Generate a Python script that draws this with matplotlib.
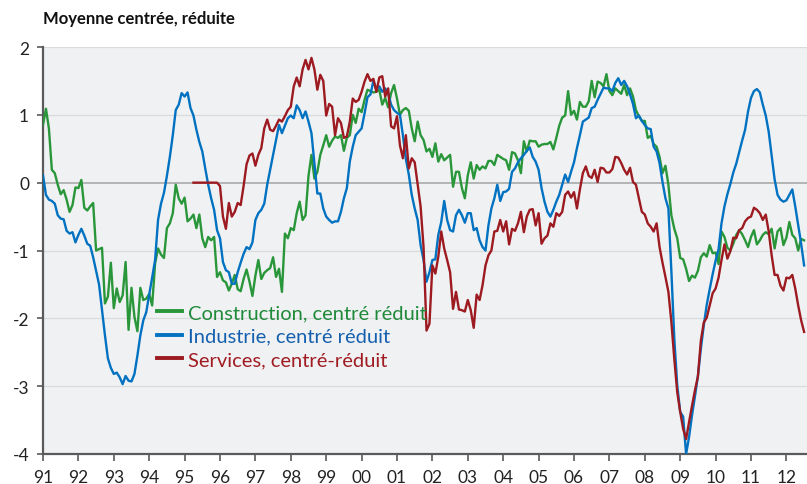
import matplotlib.pyplot as plt
import numpy as np

# Indicateurs de confiance (moyenne centrée, réduite), mensuels de janv. 1991 à juil. 2012
construction = [
    0.85, 1.09, 0.80, 0.19, 0.14, -0.03, -0.17, -0.11, -0.25, -0.43, -0.33, -0.07,      # 1991
    -0.08, 0.04, -0.37, -0.41, -0.35, -0.30, -1.00, -0.98, -0.96, -1.78, -1.68, -1.18,  # 1992
    -1.85, -1.56, -1.76, -1.66, -1.17, -2.17, -1.55, -1.98, -2.19, -1.55, -1.73, -1.71, # 1993
    -1.64, -1.81, -1.19, -0.97, -1.06, -1.11, -0.67, -0.60, -0.45, -0.03, -0.23, -0.31, # 1994
    -0.22, -0.57, -0.53, -0.47, -0.67, -0.47, -0.82, -0.95, -0.80, -0.85, -0.80, -1.39, # 1995
    -1.32, -1.44, -1.47, -1.59, -1.49, -1.36, -1.57, -1.60, -1.42, -1.28, -1.46, -1.67, # 1996
    -1.37, -1.14, -1.42, -1.33, -1.29, -1.26, -1.10, -1.39, -1.27, -1.61, -0.75, -0.82, # 1997
    -0.67, -0.70, -0.45, -0.28, -0.55, -0.48, 0.10, 0.41, 0.06, 0.16, 0.41, 0.55,       # 1998
    0.70, 0.53, 0.62, 0.68, 0.66, 0.70, 0.47, 0.66, 0.70, 1.00, 0.88, 1.09,             # 1999
    1.04, 1.22, 1.37, 1.35, 1.33, 1.34, 1.37, 1.15, 1.25, 1.11, 1.32, 1.44,             # 2000
    1.24, 1.00, 1.07, 1.10, 1.06, 0.80, 0.61, 0.90, 0.70, 0.63, 0.46, 0.50,             # 2001
    0.38, 0.58, 0.31, 0.42, 0.33, 0.37, 0.41, -0.06, 0.16, 0.16, -0.08, -0.23,          # 2002
    0.11, 0.30, 0.06, 0.26, 0.19, 0.24, 0.21, 0.32, 0.32, 0.26, 0.41, 0.38,             # 2003
    0.35, 0.33, 0.19, 0.45, 0.43, 0.33, 0.14, 0.61, 0.46, 0.62, 0.61, 0.61,             # 2004
    0.53, 0.56, 0.57, 0.57, 0.60, 0.49, 0.66, 0.84, 0.96, 0.99, 1.35, 1.00,             # 2005
    1.06, 0.93, 1.19, 1.12, 1.12, 1.20, 1.50, 1.26, 1.49, 1.47, 1.42, 1.60,             # 2006
    1.35, 1.29, 1.39, 1.35, 1.31, 1.44, 1.29, 1.39, 1.27, 1.07, 0.98, 0.91,             # 2007
    0.91, 0.66, 0.69, 0.57, 0.53, 0.38, 0.14, 0.25, -0.03, -0.48, -0.68, -0.82,         # 2008
    -1.11, -1.13, -1.27, -1.45, -1.37, -1.40, -1.30, -1.10, -1.04, -1.09, -0.92, -1.04, # 2009
    -1.03, -1.20, -0.72, -0.80, -0.96, -1.00, -0.90, -0.77, -0.70, -0.76, -0.85, -0.95, # 2010
    -0.80, -0.70, -0.91, -0.85, -0.77, -0.73, -0.76, -0.68, -0.97, -0.72, -0.67, -0.92, # 2011
    -0.81, -0.58, -0.77, -0.82, -1.00, -0.83, -0.85,                                    # 2012
]
industrie = [
    0.11, -0.18, -0.25, -0.27, -0.31, -0.48, -0.53, -0.54, -0.71, -0.75, -0.73, -0.88,  # 1991
    -0.77, -0.68, -0.78, -0.90, -0.93, -1.10, -1.30, -1.50, -1.88, -2.25, -2.59, -2.73, # 1992
    -2.82, -2.80, -2.87, -2.97, -2.85, -2.92, -2.93, -2.82, -2.55, -2.25, -2.03, -1.91, # 1993
    -1.65, -1.40, -1.14, -0.55, -0.31, -0.15, 0.10, 0.38, 0.70, 1.07, 1.15, 1.32,       # 1994
    1.27, 1.33, 1.10, 0.99, 0.78, 0.60, 0.46, 0.21, -0.03, -0.23, -0.40, -0.70,         # 1995
    -0.82, -1.17, -1.29, -1.32, -1.49, -1.49, -1.32, -1.18, -1.05, -0.95, -0.98, -0.88, # 1996
    -0.55, -0.45, -0.40, -0.31, -0.03, 0.19, 0.41, 0.63, 0.85, 0.73, 0.84, 0.95,        # 1997
    0.99, 0.95, 1.14, 1.07, 0.95, 1.05, 0.90, 0.73, 0.29, -0.16, -0.16, -0.38,          # 1998
    -0.50, -0.55, -0.59, -0.57, -0.57, -0.43, -0.23, -0.08, 0.31, 0.53, 0.70, 0.75,     # 1999
    0.80, 1.02, 1.26, 1.30, 1.50, 1.37, 1.42, 1.34, 1.39, 1.32, 1.15, 1.07,             # 2000
    1.03, 1.00, 0.70, 0.35, 0.12, -0.18, -0.38, -0.55, -0.92, -1.14, -1.46, -1.32,      # 2001
    -1.14, -1.13, -0.77, -0.58, -0.27, -0.55, -0.70, -0.72, -0.48, -0.40, -0.48, -0.59, # 2002
    -0.45, -0.45, -0.70, -0.67, -0.85, -0.95, -1.00, -0.63, -0.38, -0.23, -0.03, -0.27, # 2003
    -0.14, -0.13, -0.09, 0.16, 0.21, 0.30, 0.36, 0.41, 0.47, 0.52, 0.38, 0.31,          # 2004
    0.19, -0.08, -0.28, -0.43, -0.50, -0.40, -0.28, -0.18, -0.03, 0.12, 0.01, 0.16,     # 2005
    0.30, 0.51, 0.70, 0.90, 0.93, 0.96, 1.10, 1.12, 1.22, 1.31, 1.40, 1.39,             # 2006
    1.39, 1.35, 1.47, 1.54, 1.44, 1.50, 1.42, 1.30, 1.16, 0.95, 0.99, 0.91,             # 2007
    0.85, 0.80, 0.79, 0.53, 0.46, 0.29, 0.01, -0.23, -0.38, -1.30, -2.30, -2.99,        # 2008
    -3.38, -3.45, -4.00, -3.75, -3.43, -3.15, -2.85, -2.45, -2.10, -1.80, -1.57, -1.35, # 2009
    -1.15, -0.98, -0.60, -0.35, -0.17, -0.02, 0.15, 0.28, 0.45, 0.62, 0.78, 1.05,       # 2010
    1.25, 1.35, 1.38, 1.33, 1.15, 0.99, 0.75, 0.40, 0.05, -0.18, -0.25, -0.28,          # 2011
    -0.26, -0.18, -0.10, -0.35, -0.62, -0.90, -1.22,                                    # 2012
]
# services : série disponible à partir d'avril 1995
services = [
    0.00, 0.00, 0.00, 0.00, 0.00, 0.00, 0.00, 0.00, 0.00,                               # 1995 (avr.-déc.)
    -0.05, -0.50, -0.68, -0.30, -0.50, -0.43, -0.30, -0.33, -0.05, 0.27, 0.40, 0.43,    # 1996
    0.25, 0.41, 0.51, 0.80, 0.93, 0.78, 0.76, 0.84, 0.93, 0.90, 0.98, 1.07,             # 1997
    1.12, 1.42, 1.55, 1.42, 1.67, 1.81, 1.67, 1.84, 1.67, 1.37, 1.59, 1.50,             # 1998
    0.99, 1.16, 1.12, 0.70, 0.95, 0.88, 0.66, 0.68, 0.90, 1.24, 1.19, 1.22,             # 1999
    1.34, 1.49, 1.60, 1.50, 1.53, 1.34, 1.55, 1.57, 1.27, 1.39, 0.83, 0.80,             # 2000
    0.98, 0.55, 0.36, 0.70, 0.21, 0.36, 0.30, -0.03, -0.35, -0.95, -2.18, -2.08,        # 2001
    -1.22, -1.34, -1.09, -0.72, -0.97, -1.14, -1.32, -1.86, -1.61, -1.87, -1.88, -1.90, # 2002
    -1.73, -1.88, -2.14, -1.65, -1.73, -1.51, -1.22, -1.07, -1.00, -0.72, -0.71, -0.55, # 2003
    -0.72, -0.57, -0.91, -0.68, -0.71, -0.60, -0.43, -0.73, -0.50, -0.40, -0.39, -0.63, # 2004
    -0.45, -0.90, -0.82, -0.78, -0.60, -0.65, -0.45, -0.49, -0.43, -0.18, -0.13, -0.22, # 2005
    -0.14, -0.38, -0.10, 0.14, 0.24, 0.10, 0.07, 0.19, 0.01, 0.22, 0.21, 0.15,          # 2006
    0.15, 0.20, 0.38, 0.37, 0.29, 0.19, 0.12, 0.22, 0.01, -0.03, -0.23, -0.43,          # 2007
    -0.47, -0.60, -0.65, -0.72, -0.60, -0.95, -1.18, -1.39, -1.61, -2.05, -2.60, -3.09, # 2008
    -3.38, -3.63, -3.78, -3.53, -3.29, -3.06, -2.86, -2.33, -2.06, -1.99, -1.81, -1.63, # 2009
    -1.56, -1.40, -1.14, -0.91, -1.12, -1.01, -0.81, -0.82, -0.70, -0.67, -0.57, -0.52, # 2010
    -0.50, -0.37, -0.40, -0.45, -0.55, -0.47, -0.72, -1.07, -1.36, -1.36, -1.52, -1.59, # 2011
    -1.40, -1.41, -1.36, -1.56, -1.81, -2.03, -2.20,                                    # 2012
]
years = list(range(1991, 2013))
year_labels = [f"{y % 100:02d}" for y in years]
yticks = [-4, -3, -2, -1, 0, 1, 2]

t_all = 1991 + np.arange(len(construction)) / 12
t_serv = 1995 + 3 / 12 + np.arange(len(services)) / 12

GREEN = "#2a963a"
BLUE = "#0072c1"
RED = "#9c1a20"
AXC = "#5a5a5a"

plt.rcParams["font.family"] = ["Lato", "DejaVu Sans"]

fig = plt.figure(figsize=(8.07, 4.85), dpi=100)
ax = fig.add_axes([43 / 807, 1 - 455 / 485, 1 - 43 / 807, 407 / 485])
ax.set_facecolor("#f0f1f3")

for v in yticks:
    if v == 0:
        ax.axhline(0, color="#a3a3a3", lw=1.1, zorder=1)
    elif v != -4:
        ax.axhline(v, color="#d9dadc", lw=0.9, zorder=1)

ax.plot(t_all, construction, color=GREEN, lw=1.7, label="Construction, centré réduit", zorder=3)
ax.plot(t_all, industrie, color=BLUE, lw=1.7, label="Industrie, centré réduit", zorder=3)
ax.plot(t_serv, services, color=RED, lw=1.7, label="Services, centré-réduit", zorder=4)

ax.set_xlim(1991, 1991 + 764 / 35.4)
ax.set_ylim(-4, 2)
ax.set_xticks(years)
ax.set_xticklabels(year_labels)
ax.set_yticks(yticks)
ax.set_yticklabels([str(v) for v in yticks])

for s in ["top", "right"]:
    ax.spines[s].set_visible(False)
for s in ["left", "bottom"]:
    ax.spines[s].set_color(AXC)
    ax.spines[s].set_linewidth(1.6)
ax.tick_params(axis="both", colors=AXC, width=1.2, length=5, labelsize=12.5,
               labelcolor="#222222", direction="out")
ax.tick_params(axis="x", pad=6)
ax.tick_params(axis="y", pad=6, length=4)

leg = ax.legend(loc="upper left", bbox_to_anchor=(0.149, 0.369), frameon=False,
                fontsize=14.5, handlelength=1.25, handletextpad=0.3,
                labelspacing=0.33, borderpad=0, borderaxespad=0)
for txt, col in zip(leg.get_texts(), ["#1f8a3a", "#1560ae", "#a01c22"]):
    txt.set_color(col)
for h in leg.legend_handles:
    h.set_linewidth(2.8)

fig.text(43 / 807, 1 - 19 / 485, "Moyenne centrée, réduite", fontsize=12,
         fontweight="bold", color="#111111", va="center", ha="left")

fig.savefig("out.png", dpi=100, facecolor="white")
